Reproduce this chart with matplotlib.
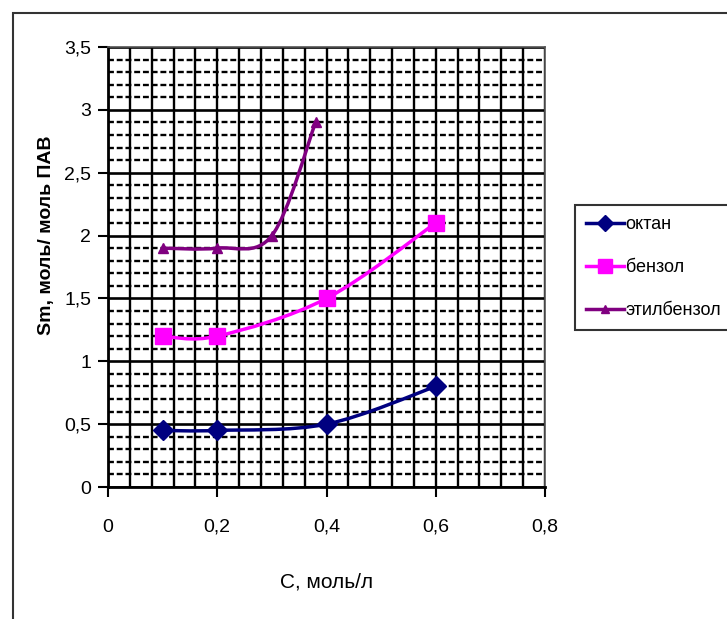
import numpy as np
import matplotlib
matplotlib.use('Agg')
import matplotlib.pyplot as plt
from matplotlib.path import Path
from matplotlib.patches import PathPatch, Rectangle
from matplotlib.lines import Line2D
from matplotlib.ticker import MultipleLocator, FuncFormatter

# data
oktan_x = [0.1, 0.2, 0.4, 0.6]
oktan_y = [0.45, 0.45, 0.5, 0.8]
benzol_x = [0.1, 0.2, 0.4, 0.6]
benzol_y = [1.2, 1.2, 1.5, 2.1]
etil_x = [0.1, 0.2, 0.3, 0.38]
etil_y = [1.9, 1.9, 2.0, 2.9]

series_names = ['октан', 'бензол', 'этилбензол']
x_ticks = [0, 0.2, 0.4, 0.6, 0.8]
y_ticks = [0, 0.5, 1, 1.5, 2, 2.5, 3, 3.5]

plt.rcParams['font.family'] = ['Liberation Sans Narrow', 'Liberation Sans', 'DejaVu Sans']


def smooth_path(xs, ys, tension=1 / 6):
    # Catmull-Rom style smoothing like Excel "smoothed line"
    pts = np.column_stack([xs, ys]).astype(float)
    verts = [pts[0]]
    codes = [Path.MOVETO]
    n = len(pts)
    for i in range(n - 1):
        p0 = pts[i - 1] if i > 0 else pts[i]
        p1 = pts[i]
        p2 = pts[i + 1]
        p3 = pts[i + 2] if i + 2 < n else pts[i + 1]
        c1 = p1 + (p2 - p0) * tension
        c2 = p2 - (p3 - p1) * tension
        verts += [c1, c2, p2]
        codes += [Path.CURVE4] * 3
    return Path(verts, codes)


fig = plt.figure(figsize=(7.27, 6.19), dpi=100)
ax = fig.add_axes([108 / 727, 1 - 487 / 619, 437 / 727, 440 / 619])

ax.set_xlim(0, 0.8)
ax.set_ylim(0, 3.5)

ax.set_xticks(x_ticks)
ax.set_yticks(y_ticks)
ax.xaxis.set_minor_locator(MultipleLocator(0.04))
ax.yaxis.set_minor_locator(MultipleLocator(0.1))

ax.grid(True, which='both', axis='x', color='black', lw=1.7)
ax.grid(True, which='major', axis='y', color='black', lw=1.9)
ax.grid(True, which='minor', axis='y', color='black', lw=1.7, linestyle=(0, (2.5, 1.2)))
ax.set_axisbelow(True)

fmt = FuncFormatter(lambda v, p: ('%g' % v).replace('.', ','))
ax.xaxis.set_major_formatter(fmt)
ax.yaxis.set_major_formatter(fmt)
ax.tick_params(which='minor', length=0)
ax.tick_params(which='major', direction='out', length=7, width=1.5, labelsize=14)
ax.tick_params(axis='x', pad=16)
ax.tick_params(axis='y', pad=5)

for s in ['left', 'bottom']:
    ax.spines[s].set_linewidth(2)
for s in ['top', 'right']:
    ax.spines[s].set_linewidth(1.2)
    ax.spines[s].set_color('#555555')

styles = [
    (oktan_x, oktan_y, '#000080', 'D', 10),
    (benzol_x, benzol_y, '#FF00FF', 's', 12),
    (etil_x, etil_y, '#800080', '^', 7),
]
handles = []
for (xs, ys, col, mk, ms), name in zip(styles, series_names):
    ax.add_patch(PathPatch(smooth_path(xs, ys), facecolor='none', edgecolor=col, lw=2.5, zorder=3))
    ax.plot(xs, ys, linestyle='none', marker=mk, color=col, ms=ms, zorder=4, clip_on=False)
    handles.append(Line2D([], [], color=col, lw=2.5, marker=mk, ms=ms * 0.8))

leg = fig.legend(handles, series_names, loc='upper left',
                 bbox_to_anchor=(575 / 727, 1 - 205 / 619), frameon=True,
                 fancybox=False, edgecolor='black', fontsize=13,
                 handlelength=2.1, handletextpad=0.1, labelspacing=1.45,
                 borderpad=0.6, borderaxespad=0)
leg.get_frame().set_linewidth(1.5)

fig.text(327 / 727, 1 - 582 / 619, 'С, моль/л', ha='center', va='center', fontsize=15)
fig.text(46 / 727, 1 - 235 / 619, 'Sm, моль/ моль ПАВ', ha='center', va='center',
         rotation=90, fontsize=14, fontweight='bold', family=['Liberation Sans', 'DejaVu Sans'])

fig.patches.append(Rectangle((13 / 727, -0.1), 1.2, 1.1 - 13 / 619, transform=fig.transFigure,
                             facecolor='none', edgecolor='#333333', lw=1.5))

fig.savefig('out.png', dpi=100)
